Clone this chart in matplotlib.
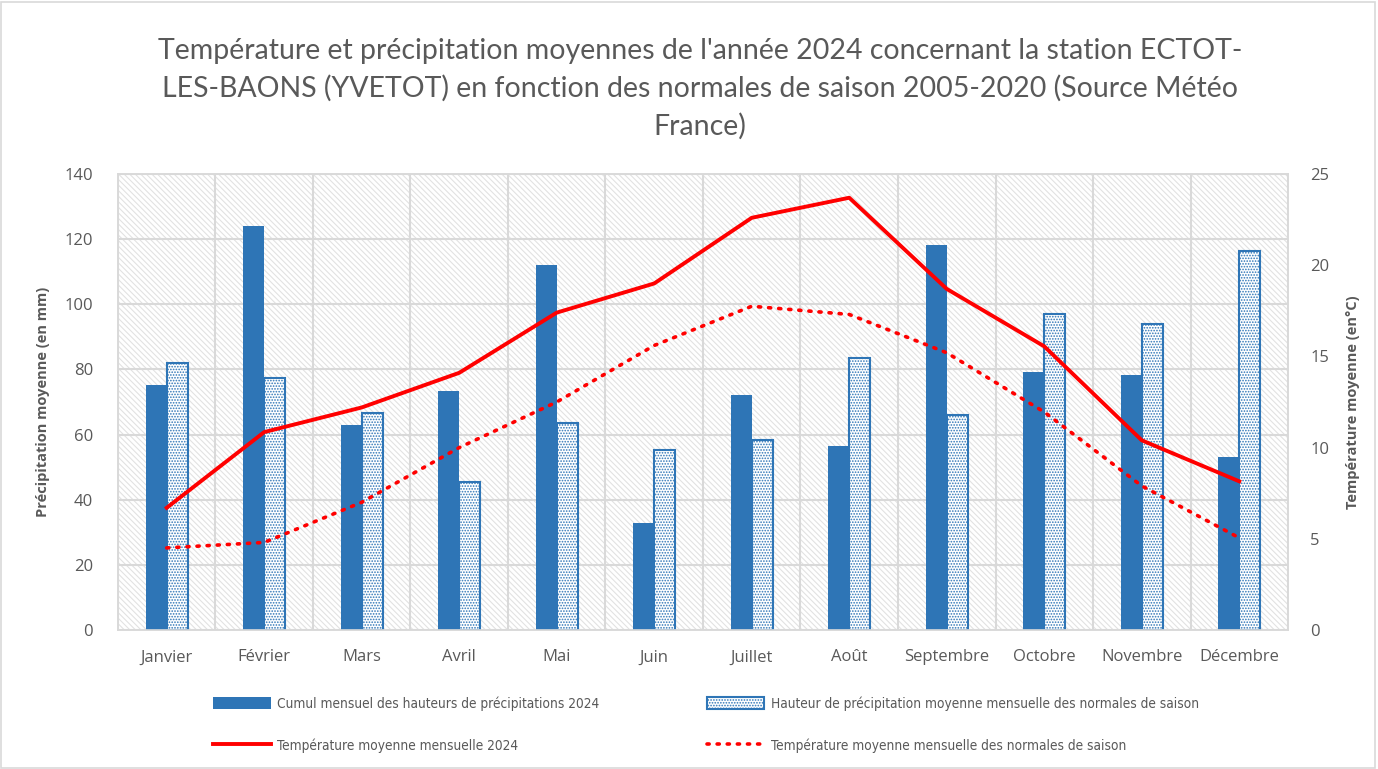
import numpy as np
import matplotlib
matplotlib.use("Agg")
from matplotlib import pyplot as plt
from matplotlib import font_manager as fm
from matplotlib.patches import Rectangle

mois = ["Janvier", "Février", "Mars", "Avril", "Mai", "Juin", "Juillet",
        "Août", "Septembre", "Octobre", "Novembre", "Décembre"]
precip_2024 = [75.2, 124, 62.8, 73.4, 112, 32.9, 72.2, 56.5, 118.2, 79.2, 78.3, 53.1]
precip_normale = [82, 77.4, 66.6, 45.4, 63.5, 55.3, 58.3, 83.5, 66, 97, 94, 116.4]
temp_2024 = [6.7, 10.85, 12.2, 14.1, 17.4, 19.0, 22.6, 23.7, 18.7, 15.55, 10.4, 8.15]
temp_normale = [4.5, 4.8, 7.0, 10.0, 12.5, 15.6, 17.75, 17.3, 15.2, 11.95, 7.9, 5.05]

titre = ("Température et précipitation moyennes de l'année 2024 concernant la station ECTOT-\n"
         "LES-BAONS (YVETOT) en fonction des normales de saison 2005-2020 (Source Météo\n"
         "France)")

bleu = "#2E75B6"
gris = "#595959"
grille = "#D9D9D9"

plt.rcParams["font.family"] = ["Open Sans", "DejaVu Sans"]
plt.rcParams["hatch.linewidth"] = 0.8

fig = plt.figure(figsize=(13.78, 7.69), dpi=100)
fig.patches.append(Rectangle((0.001, 0.001), 0.997, 0.997, transform=fig.transFigure,
                             fill=False, edgecolor=grille, linewidth=1.2))
ax = fig.add_axes([0.0856, 0.1808, 0.8491, 0.5929])
ax2 = ax.twinx()

x = np.arange(len(mois))
w = 0.215

# fond hachuré de la zone de tracé
ax.add_patch(Rectangle((0, 0), 1, 1, transform=ax.transAxes, facecolor="white",
                       edgecolor="#E2E2E2", hatch="\\" * 6, linewidth=0, zorder=0))

ax.bar(x - w / 2, precip_2024, w, color=bleu, zorder=3,
       label="Cumul mensuel des hauteurs de précipitations 2024")
ax.bar(x + w / 2, precip_normale, w, facecolor="white", edgecolor=bleu, hatch="......",
       linewidth=1.5, zorder=3,
       label="Hauteur de précipitation moyenne mensuelle des normales de saison")

ax.set_xlim(-0.5, 11.5)
ax.set_ylim(0, 140)
ax.set_yticks(range(0, 141, 20))
ax.set_xticks(x)
ax.set_xticklabels(mois)
ax.set_xticks(np.arange(-0.5, 12, 1), minor=True)
ax.grid(True, which="major", axis="y", color=grille, linewidth=1.5, zorder=1)
ax.grid(True, which="minor", axis="x", color=grille, linewidth=1.5, zorder=1)
ax.tick_params(which="both", length=0, labelsize=12, colors=gris, pad=14)
ax.tick_params(axis="y", pad=18)
ax.set_axisbelow(True)

ax2.plot(x, temp_2024, color="#FF0000", linewidth=2.8, zorder=5,
         label="Température moyenne mensuelle 2024")
ax2.plot(x, temp_normale, color="#FF0000", linewidth=2.6, linestyle=(0, (0.6, 2.2)),
         dash_capstyle="round", zorder=5,
         label="Température moyenne mensuelle des normales de saison")
ax2.set_ylim(0, 25)
ax2.set_yticks(range(0, 26, 5))
ax2.tick_params(length=0, labelsize=12, colors=gris, pad=16)

for a in (ax, ax2):
    for s in a.spines.values():
        s.set_color(grille)
        s.set_linewidth(1.2)

ax.set_ylabel("Précipitation moyenne (en mm)", fontsize=10.5, fontweight="bold",
              color=gris, labelpad=10)
ax2.set_ylabel("Température moyenne (en°C)", fontsize=10.5, fontweight="bold",
               color=gris, labelpad=12)

fig.text(0.508, 0.951, titre, ha="center", va="top", fontsize=20.5, color=gris,
         linespacing=1.5, family=["Lato", "DejaVu Sans"])

h1, l1 = ax.get_legend_handles_labels()
h2, l2 = ax2.get_legend_handles_labels()
handles = [h1[0], h2[0], h1[1], h2[1]]
labels = [l1[0], l2[0], l1[1], l2[1]]
prop_leg = fm.FontProperties(family="DejaVu Sans", stretch="condensed", size=9.8)
leg = fig.legend(handles, labels, loc="center left", bbox_to_anchor=(0.146, 0.058), ncol=2,
                 frameon=False, labelcolor=gris, handlelength=4.2,
                 handleheight=1.0, columnspacing=7.9, labelspacing=2.0, handletextpad=0.5,
                 prop=prop_leg)

fig.savefig("out.png", dpi=100)
